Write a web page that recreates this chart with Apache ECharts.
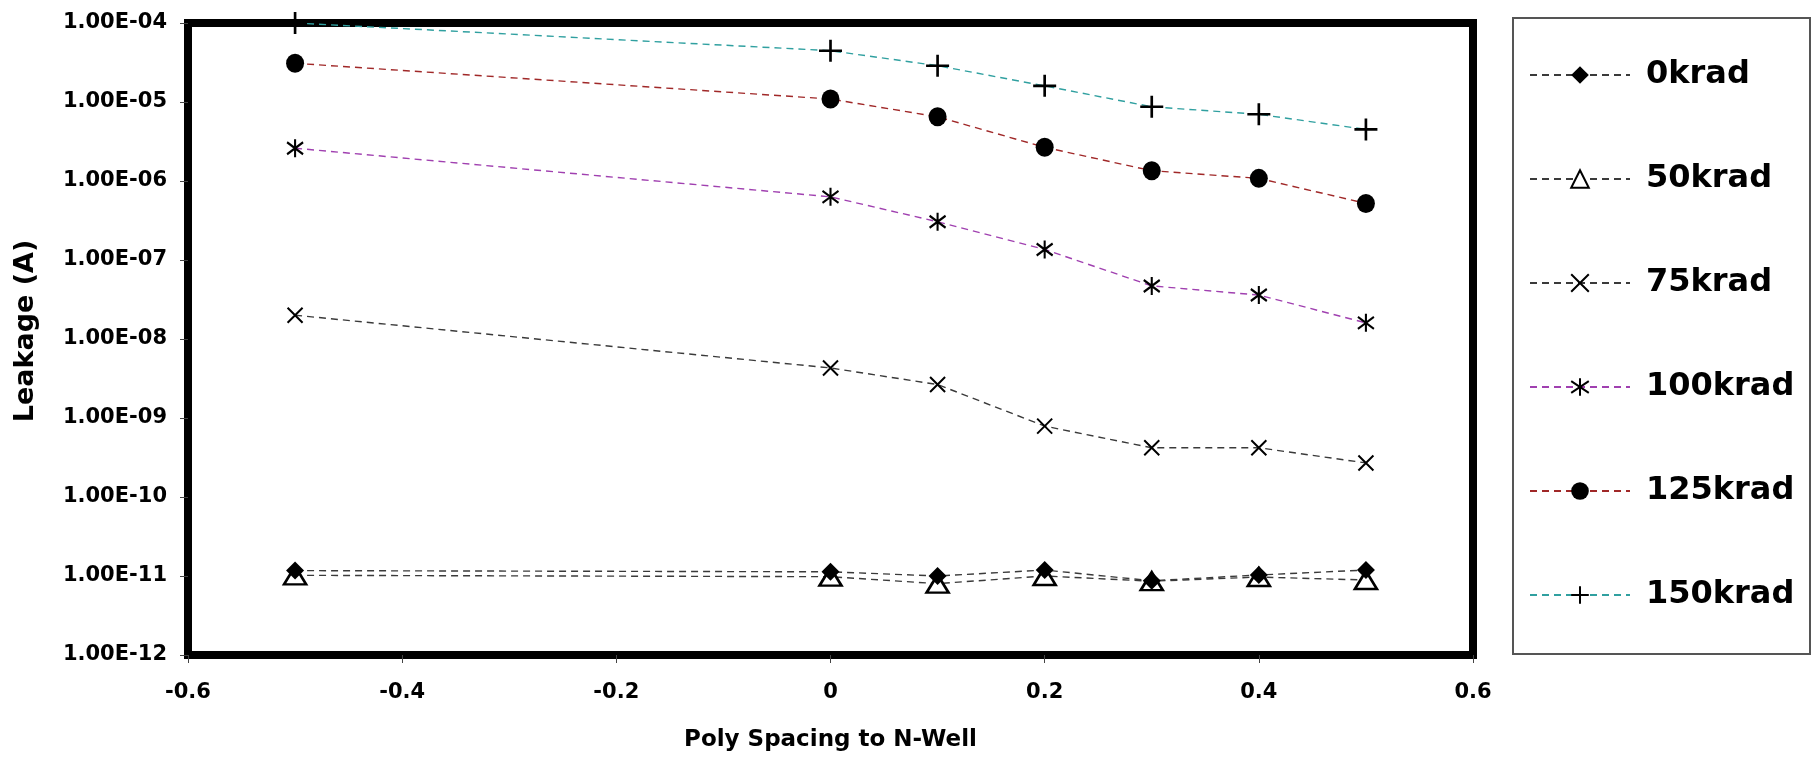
<!DOCTYPE html>
<html>
<head>
<meta charset="utf-8">
<script src="https://cdn.jsdelivr.net/npm/echarts@6/dist/echarts.min.js"></script>
<style>
html,body{margin:0;padding:0;background:#fff;}
#chart{width:1816px;height:761px;}
</style>
</head>
<body>
<div id="chart"></div>
<script>
// ---- data ----
const xValues = [-0.5, 0, 0.1, 0.2, 0.3, 0.4, 0.5];
const seriesNames = ['0krad', '50krad', '75krad', '100krad', '125krad', '150krad'];
const leak0krad   = [1.17e-11, 1.13e-11, 1.0e-11, 1.19e-11, 8.7e-12, 1.03e-11, 1.19e-11];
const leak50krad  = [1.02e-11, 9.8e-12, 8.0e-12, 1.0e-11, 8.6e-12, 9.7e-12, 8.9e-12];
const leak75krad  = [2.0e-8, 4.3e-9, 2.65e-9, 7.9e-10, 4.2e-10, 4.2e-10, 2.7e-10];
const leak100krad = [2.6e-6, 6.3e-7, 3.05e-7, 1.36e-7, 4.7e-8, 3.6e-8, 1.6e-8];
const leak125krad = [3.09e-5, 1.09e-5, 6.5e-6, 2.67e-6, 1.35e-6, 1.08e-6, 5.2e-7];
const leak150krad = [1.0e-4, 4.46e-5, 2.88e-5, 1.6e-5, 8.7e-6, 6.98e-6, 4.5e-6];
const xTickLabels = ['-0.6', '-0.4', '-0.2', '0', '0.2', '0.4', '0.6'];
const xAxisTitle = 'Poly Spacing to N-Well';
const yAxisTitle = 'Leakage (A)';

// ---- styles ----
const FONT = 'DejaVu Sans';
const allData = [leak0krad, leak50krad, leak75krad, leak100krad, leak125krad, leak150krad];
const lineColors = ['#3a3a3a', '#3a3a3a', '#3a3a3a', '#a040b0', '#a02828', '#30a0a0'];
const symbols = [
  'diamond',
  'triangle',
  'path://M0,0L10,10M10,0L0,10',
  'path://M5,0L5,12M0,2L10,10M10,2L0,10',
  'circle',
  'path://M0,5L10,5M5,0L5,10'
];
const symbolSizes = [[18, 18], [22, 18], [15, 15], [16, 18], [18, 19], [23, 22]];
const itemStyles = [
  {color: '#000', borderColor: '#000', borderWidth: 0},
  {color: '#fff', borderColor: '#000', borderWidth: 2.6},
  {color: 'rgba(0,0,0,0)', borderColor: '#000', borderWidth: 2},
  {color: 'rgba(0,0,0,0)', borderColor: '#000', borderWidth: 2.2},
  {color: '#000', borderColor: '#000', borderWidth: 0},
  {color: 'rgba(0,0,0,0)', borderColor: '#000', borderWidth: 2.6}
];

function fmtSci(v) {
  const e = Math.round(Math.log10(v));
  const a = Math.abs(e);
  return '1.00E' + (e < 0 ? '-' : '+') + (a < 10 ? '0' : '') + a;
}
function fmtX(v) {
  const idx = Math.round((v + 0.6) / 0.2);
  return xTickLabels[idx] !== undefined ? xTickLabels[idx] : String(v);
}

const series = seriesNames.map((name, s) => ({
  name: name,
  type: 'line',
  data: xValues.map((x, i) => [x, allData[s][i]]),
  symbol: symbols[s],
  symbolSize: symbolSizes[s],
  showAllSymbol: true,
  clip: false,
  itemStyle: itemStyles[s],
  lineStyle: {color: lineColors[s], width: 1.4, type: [7, 5]},
  emphasis: {disabled: true},
  z: 2 + (5 - s)
}));

const chart = echarts.init(document.getElementById('chart'), null, {renderer: 'canvas'});
chart.setOption({
  animation: false,
  backgroundColor: '#fff',
  grid: {
    left: 188, right: 343, top: 23, bottom: 106,
    show: true, borderColor: '#000', borderWidth: 8, backgroundColor: 'transparent',
    containLabel: false
  },
  xAxis: {
    type: 'value', min: -0.6, max: 0.6, interval: 0.2,
    name: xAxisTitle, nameLocation: 'middle', nameGap: 74,
    nameTextStyle: {fontFamily: FONT, fontWeight: 'bold', fontSize: 23, color: '#000'},
    axisLine: {show: true, onZero: false, lineStyle: {color: '#000', width: 1}},
    axisTick: {show: true, inside: false, length: 8, lineStyle: {color: '#444', width: 1}},
    axisLabel: {formatter: fmtX, margin: 27, fontFamily: FONT, fontWeight: 'bold', fontSize: 21, color: '#000'},
    splitLine: {show: false}
  },
  yAxis: {
    type: 'log', logBase: 10, min: 1e-12, max: 1e-4, splitNumber: 8,
    name: yAxisTitle, nameLocation: 'middle', nameGap: 149, nameRotate: 90,
    nameTextStyle: {fontFamily: FONT, fontWeight: 'bold', fontSize: 27, color: '#000', padding: [0, 0, 0, 16]},
    axisLine: {show: true, onZero: false, lineStyle: {color: '#000', width: 1}},
    axisTick: {show: true, inside: false, length: 8, lineStyle: {color: '#444', width: 1}},
    axisLabel: {formatter: fmtSci, margin: 21, fontFamily: FONT, fontWeight: 'bold', fontSize: 21, color: '#000'},
    splitLine: {show: false}
  },
  legend: {
    show: true, orient: 'vertical', left: 1529, top: 59, padding: 0,
    itemWidth: 100, itemHeight: 22, itemGap: 72,
    selectedMode: false,
    data: seriesNames,
    textStyle: {fontFamily: FONT, fontWeight: 'bold', fontSize: 32, color: '#000', lineHeight: 22, padding: [0, 0, 0, 11]}
  },
  graphic: [{
    type: 'rect', left: 1512, top: 17, z: -1,
    shape: {width: 297, height: 636},
    style: {fill: '#fff', stroke: '#555', lineWidth: 2}
  }],
  series: series
});
</script>
</body>
</html>
